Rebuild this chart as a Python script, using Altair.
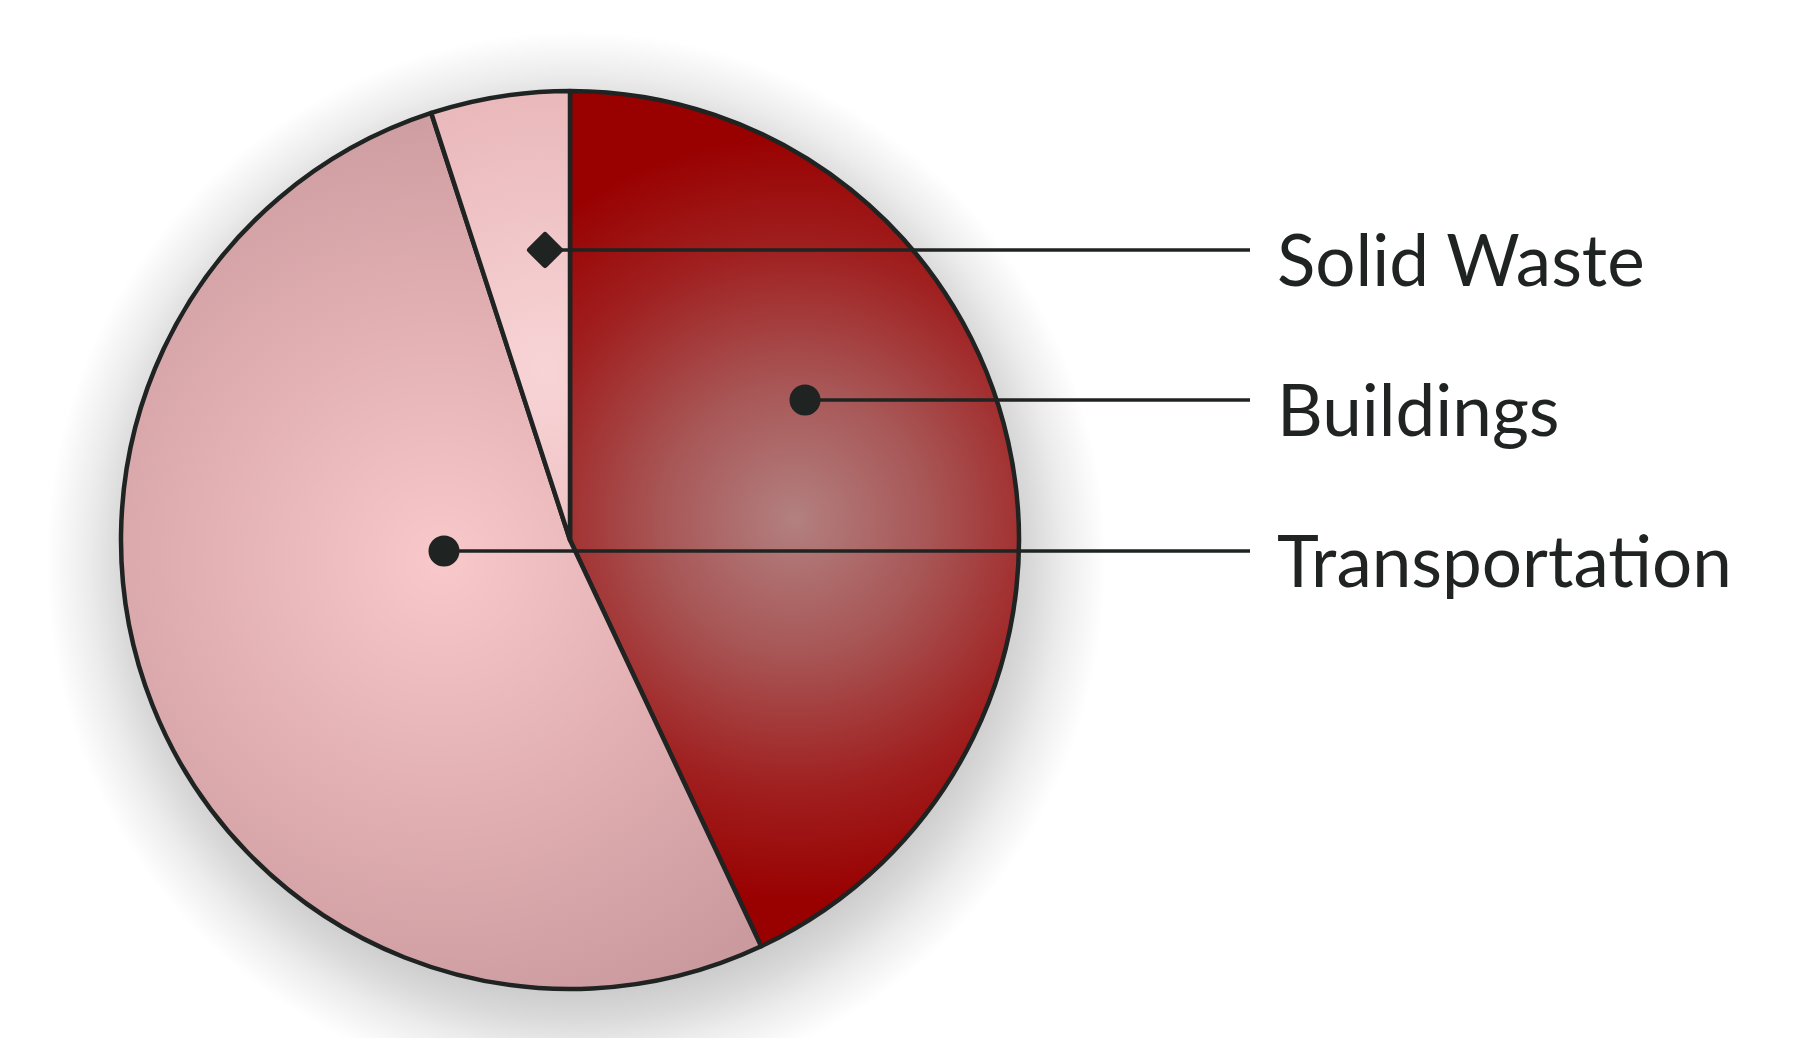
import math
import altair as alt
import pandas as pd

# ---- data ----
categories = ["Buildings", "Transportation", "Solid Waste"]
shares = [43, 52, 5]
slice_order = [0, 1, 2]

# ---- layout (page pixels) ----
OFF = 8
CX, CY, R = 570, 540, 449
label_names = ["Solid Waste", "Buildings", "Transportation"]
label_line_y = [250, 400, 551]
label_dot_x = [545, 805, 444]
label_dot_shape = ["diamond", "circle", "circle"]
LINE_END_X = 1250
TEXT_X = 1277
INK = "#1f2321"

df = pd.DataFrame({"category": categories, "share": shares, "order": slice_order})
lab = pd.DataFrame({
    "category": label_names,
    "ly": [v - OFF for v in label_line_y],
    "ty": [v - OFF + 36 for v in label_line_y],
    "dx": [v - OFF for v in label_dot_x],
    "ex": [LINE_END_X - OFF] * 3,
    "tx": [TEXT_X - OFF] * 3,
    "shape": label_dot_shape,
})


def radial(stops, x, y, r):
    return alt.RadialGradient(
        gradient="radial",
        stops=[alt.GradientStop(offset=o, color=c) for o, c in stops],
        x1=x, y1=y, r1=0, x2=x, y2=y, r2=r,
    )


grads = {
    "Buildings": radial([(0, "#b38080"), (0.35, "#a85656"), (0.7, "#a02020"), (1, "#990000")], 0.5, 0.5, 0.45),
    "Transportation": radial([(0, "#f8c8cb"), (0.5, "#e2b0b3"), (1, "#cb9a9e")], 0.5, 0.51, 0.55),
    "Solid Waste": radial([(0, "#f8d4d6"), (1, "#eab9bc")], 0.6, 0.62, 0.6),
}

shadow = alt.Chart(pd.DataFrame({"v": [1]})).mark_arc(
    theta=0, theta2=2 * math.pi, radius=530,
    fill=radial([(0, "#c8c8c8"), (0.8, "#cacaca"), (0.86, "#d9d9d9"), (0.92, "#ececec"), (1, "#ffffff")], 0.5, 0.5, 0.5),
).encode(x=alt.value(576 - OFF), y=alt.value(562 - OFF))

base = alt.Chart(df).transform_window(
    cum="sum(share)", sort=[alt.SortField("order")], frame=[None, 0]
).transform_joinaggregate(total="sum(share)").transform_calculate(
    start="(datum.cum - datum.share) / datum.total",
    end="datum.cum / datum.total",
)

slices = []
for cat in categories:
    slices.append(
        base.transform_filter(alt.datum.category == cat).mark_arc(
            radius=R, fill=grads[cat], stroke=INK, strokeWidth=4.5, strokeJoin="round"
        ).encode(
            theta=alt.Theta("start:Q", scale=alt.Scale(domain=[0, 1], range=[0, 2 * math.pi])),
            theta2="end:Q",
            x=alt.value(CX - OFF),
            y=alt.value(CY - OFF),
        )
    )

lbase = alt.Chart(lab)
rules = lbase.mark_rule(color=INK, strokeWidth=3.5).encode(
    x=alt.X("dx:Q", scale=None, axis=None),
    x2="ex:Q",
    y=alt.Y("ly:Q", scale=None, axis=None),
)
circles = lbase.transform_filter(alt.datum.shape == "circle").mark_point(
    filled=True, shape="circle", size=961, color=INK, opacity=1
).encode(x=alt.X("dx:Q", scale=None), y=alt.Y("ly:Q", scale=None))
diamonds = lbase.transform_filter(alt.datum.shape == "diamond").mark_point(
    filled=True, shape="diamond", size=900, color=INK, opacity=1,
    stroke=INK, strokeWidth=6, strokeJoin="round"
).encode(x=alt.X("dx:Q", scale=None), y=alt.Y("ly:Q", scale=None))
texts = lbase.mark_text(
    align="left", baseline="alphabetic", font="Lato", fontSize=71, color=INK
).encode(x=alt.X("tx:Q", scale=None), y=alt.Y("ty:Q", scale=None), text="category:N")

chart = alt.layer(shadow, *slices, rules, circles, diamonds, texts).properties(
    width=1770, height=1030, padding=0, autosize=alt.AutoSizeParams(type="none"),
    background="white",
).configure_view(stroke=None)

chart.save("out.html", embed_options={"renderer": "svg", "actions": False})
